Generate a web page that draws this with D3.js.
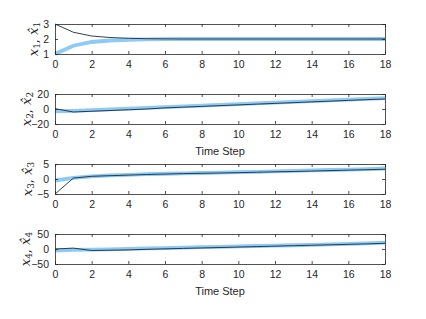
<!DOCTYPE html>
<html><head><meta charset="utf-8">
<script src="https://cdn.jsdelivr.net/npm/d3@7"></script>
<style>body{margin:0;background:#fff}svg{display:block}</style>
</head><body>
<script>
const steps = d3.range(0, 19);
const x1True = [3, 2.45, 2.2, 2.1, 2.05, 2.02, 2.01, 2, 2, 2, 2, 2, 2, 2, 2, 2, 2, 2, 2];
const x1Est  = [1, 1.55, 1.8, 1.9, 1.95, 1.98, 1.99, 2, 2, 2, 2, 2, 2, 2, 2, 2, 2, 2, 2];
const x2True = [0.5, -4, -3, -2, -1, 0, 1.5, 2.5, 3.5, 4.5, 5.5, 6.5, 7.5, 8.5, 9.5, 10.5, 11.5, 12.5, 13.3];
const x2Est  = [-3, -2.5, -1.5, -0.5, 0.5, 1.5, 2.5, 3.5, 4.5, 5.5, 6.5, 7.5, 8.5, 9.5, 10.5, 11.5, 12.5, 13.5, 14.5];
const x3True = [-5, 0.3, 0.9, 1.1, 1.3, 1.5, 1.65, 1.8, 1.9, 2.0, 2.1, 2.25, 2.4, 2.5, 2.65, 2.8, 2.95, 3.1, 3.25];
const x3Est  = [-0.5, 0.4, 0.9, 1.2, 1.4, 1.6, 1.75, 1.9, 2.0, 2.15, 2.3, 2.4, 2.55, 2.7, 2.85, 3.0, 3.15, 3.3, 3.5];
const x4True = [0, 3, -5, -4, -3, -1, 0.5, 2, 3.5, 5, 6.5, 8, 9.5, 11, 12.5, 14, 15.5, 17, 19];
const x4Est  = [-5, -3, -2, -1, 0.5, 2, 3, 4.5, 6, 7, 8.5, 10, 11, 12.5, 14, 15.5, 17, 18.5, 21];
const xTicks = [0, 2, 4, 6, 8, 10, 12, 14, 16, 18];
const yTicks = [[1, 2, 3], [-20, 0, 20], [-5, 0, 5], [-50, 0, 50]];
const yDomains = [[1, 3], [-20, 20], [-5, 5], [-50, 50]];
const trueSeries = [x1True, x2True, x3True, x4True];
const estSeries = [x1Est, x2Est, x3Est, x4Est];
const showXLabel = [false, true, false, true];

const W = 426, H = 319;
const left = 55, right = 385;
const tops = [24, 94, 164, 234];
const labelX = [34, 27, 28, 26];
const ph = 30;
const axisColor = "#262626";

const svg = d3.select("body").append("svg").attr("width", W).attr("height", H);
const x = d3.scaleLinear().domain([0, 18]).range([left, right]);
const fmt = d3.format("d");

for (let i = 0; i < 4; i++) {
  const top = tops[i], bottom = top + ph;
  const y = d3.scaleLinear().domain(yDomains[i]).range([bottom, top]);
  const g = svg.append("g");

  const line = d3.line().x((d, j) => x(steps[j])).y(d => y(d));
  g.append("path").datum(estSeries[i]).attr("d", line)
    .attr("fill", "none").attr("stroke", "#8dcaf5").attr("stroke-width", 3.8);
  g.append("path").datum(trueSeries[i]).attr("d", line)
    .attr("fill", "none").attr("stroke", "#1b2a3a").attr("stroke-width", 0.9);

  const fontAxis = "'Liberation Sans', Arial, sans-serif";
  const xb = g.append("g").attr("transform", `translate(0,${bottom})`)
    .call(d3.axisBottom(x).tickValues(xTicks).tickFormat(fmt).tickSizeInner(-3).tickSizeOuter(0).tickPadding(7));
  const xt = g.append("g").attr("transform", `translate(0,${top})`)
    .call(d3.axisTop(x).tickValues(xTicks).tickSizeInner(-3).tickSizeOuter(0).tickFormat(""));
  const yl = g.append("g").attr("transform", `translate(${left},0)`)
    .call(d3.axisLeft(y).tickValues(yTicks[i]).tickFormat(fmt).tickSizeInner(-3).tickSizeOuter(0).tickPadding(6));
  const yr = g.append("g").attr("transform", `translate(${right},0)`)
    .call(d3.axisRight(y).tickValues(yTicks[i]).tickSizeInner(-3).tickSizeOuter(0).tickFormat(""));
  [xb, xt, yl, yr].forEach(a => {
    a.selectAll("path.domain").attr("stroke", axisColor).attr("stroke-width", 0.8);
    a.selectAll("line").attr("stroke", axisColor).attr("stroke-width", 0.8);
    a.selectAll("text").attr("fill", axisColor).attr("font-size", 10.5).attr("font-family", fontAxis);
  });

  if (showXLabel[i]) {
    g.append("text").attr("x", (left + right) / 2).attr("y", bottom + 31)
      .attr("text-anchor", "middle").attr("fill", axisColor)
      .attr("font-size", 11).attr("font-family", fontAxis).text("Time Step");
  }

  const lab = g.append("text")
    .attr("transform", `translate(${labelX[i]},${(top + bottom) / 2}) rotate(-90)`)
    .attr("text-anchor", "middle").attr("dominant-baseline", "middle").attr("fill", axisColor)
    .attr("font-family", "'DejaVu Serif', 'Liberation Serif', serif").attr("font-size", 13);
  const n = String(i + 1);
  lab.append("tspan").attr("font-style", "italic").text("x");
  lab.append("tspan").attr("font-size", 9).attr("dy", 3).text(n);
  lab.append("tspan").attr("dy", -3).text(", ");
  lab.append("tspan").attr("font-style", "italic").text("x\u0302");
  lab.append("tspan").attr("font-size", 9).attr("dy", 3).text(n);
}
</script>
</body></html>
